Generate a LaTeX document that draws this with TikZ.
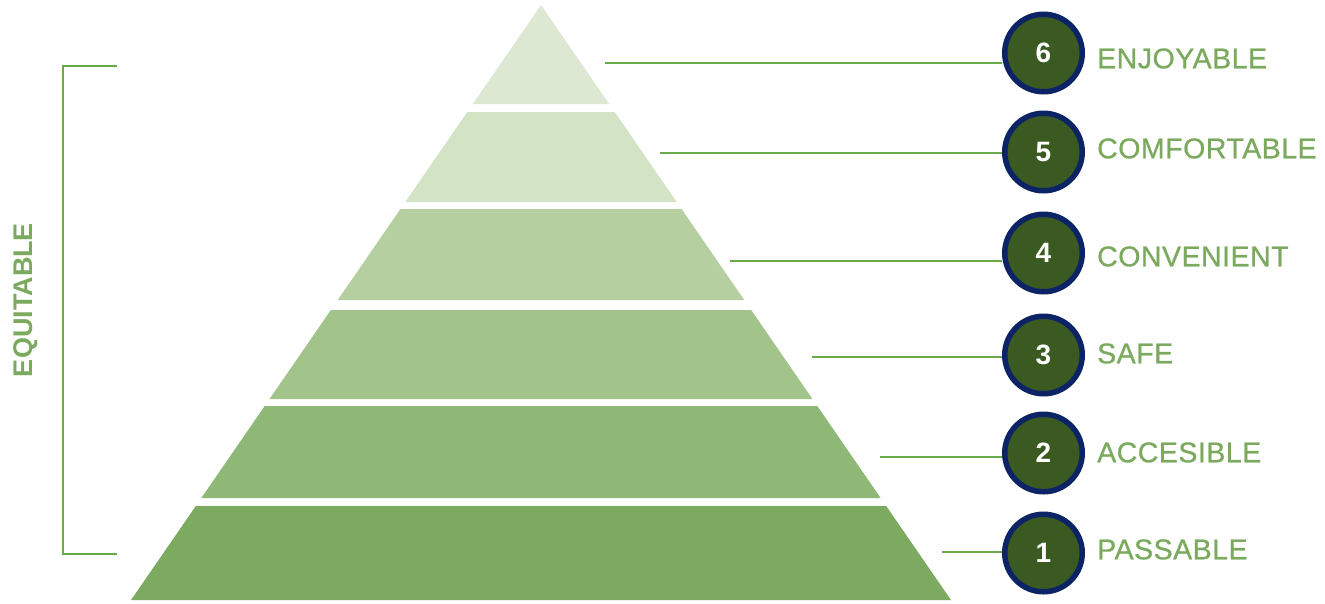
\documentclass[tikz,border=0pt]{standalone}
\usepackage{fontspec}
\setmainfont{Liberation Sans}
\newfontfamily\labfont[FakeBold=0.8, LetterSpace=1.8]{Liberation Sans}
\definecolor{bandA}{HTML}{7CAA60}
\definecolor{bandB}{HTML}{8FB876}
\definecolor{bandC}{HTML}{A2C38A}
\definecolor{bandD}{HTML}{B5CFA0}
\definecolor{bandE}{HTML}{D3E3C6}
\definecolor{bandF}{HTML}{DDE8D3}
\definecolor{leadgreen}{HTML}{6AAA4A}
\definecolor{labgreen}{HTML}{7BAA5E}
\definecolor{numfill}{HTML}{3A5A22}
\definecolor{numring}{HTML}{0C2466}
\tikzset{
  numcircle/.style={circle, fill=numfill, draw=numring, line width=5.5pt,
    minimum size=77.5pt, inner sep=0pt, text=white,
    font=\fontsize{28}{30}\selectfont\bfseries},
  levellabel/.style={anchor=west, inner sep=0pt, text height=20.5pt, text depth=0pt,
    text=labgreen, font=\labfont\fontsize{28.5}{30}\selectfont},
  leader/.style={draw=leadgreen, line width=2pt},
}
\begin{document}
\begin{tikzpicture}[x=1pt,y=-1pt]
\useasboundingbox (0,0) rectangle (1325,603);
% pyramid bands
\foreach \t/\b/\c in {5/104/bandF,112/202/bandE,209/300/bandD,310/399/bandC,406/498/bandB,506/600/bandA}{
  \fill[\c] ({541-0.689*(\t-5)},\t) -- ({541+0.689*(\t-5)},\t) -- ({541+0.689*(\b-5)},\b) -- ({541-0.689*(\b-5)},\b) -- cycle;
}
% circles
\node[numcircle] (c6) at (1043.5,53) {6};
\node[numcircle] (c5) at (1043.5,152) {5};
\node[numcircle] (c4) at (1043.5,253) {4};
\node[numcircle] (c3) at (1043.5,355) {3};
\node[numcircle] (c2) at (1043.5,453) {2};
\node[numcircle] (c1) at (1043.5,553) {1};
% leader lines
\coordinate (s6) at (605,63);
\coordinate (s5) at (660,153);
\coordinate (s4) at (730,261);
\coordinate (s3) at (812,357);
\coordinate (s2) at (880,457);
\coordinate (s1) at (942,552);
\foreach \i in {1,...,6}{\draw[leader] (s\i) -- (s\i -| c\i.west);}
% labels
\node[levellabel] (l6) at (1097,58) {ENJOYABLE};
\node[levellabel] (l5) at (1097,148) {COMFORTABLE};
\node[levellabel] (l4) at (1097,256) {CONVENIENT};
\node[levellabel] (l3) at (1097,353) {SAFE};
\node[levellabel] (l2) at (1097,452) {ACCESIBLE};
\node[levellabel] (l1) at (1097,549) {PASSABLE};
% bracket
\coordinate (bt) at (117,66);
\coordinate (bb) at (117,554);
\draw[leader] (bt) -- (63,66) -- (63,554) -- (bb);
\node[rotate=90, text=labgreen, inner sep=0pt, font=\fontsize{27}{30}\selectfont\bfseries] (eq) at (26,300) {EQUITABLE};
\end{tikzpicture}
\end{document}
